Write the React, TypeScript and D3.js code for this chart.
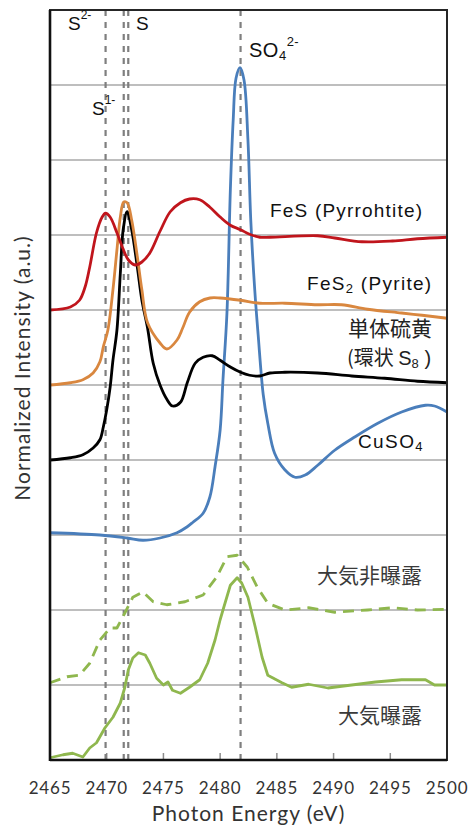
import React, { useEffect } from 'react';
import * as d3 from 'd3';

type Pt = [number, number];

// energy (eV), normalized intensity (offset units, 0-10)
const fesRed: Pt[] = [
  [2465.0, 6.0], [2466.8, 6.04], [2467.6, 6.13], [2468.1, 6.31], [2468.5, 6.57],
  [2469.1, 7.03], [2469.6, 7.24], [2469.9, 7.29], [2470.3, 7.24], [2470.9, 7.03],
  [2471.4, 6.83], [2471.9, 6.67], [2472.5, 6.6], [2473.1, 6.64], [2473.8, 6.76],
  [2474.7, 7.05], [2475.6, 7.31], [2476.5, 7.43], [2477.3, 7.48], [2478.2, 7.47],
  [2479.1, 7.37], [2480.0, 7.24], [2480.9, 7.13], [2481.8, 7.07], [2482.6, 7.01],
  [2483.5, 6.97], [2484.4, 6.97], [2488.6, 6.99], [2490.1, 6.96], [2492.5, 6.91],
  [2495.2, 6.92], [2497.4, 6.95], [2500.0, 6.97],
];

const fes2Orange: Pt[] = [
  [2465.0, 5.0], [2466.8, 5.03], [2467.9, 5.07], [2468.8, 5.16], [2469.4, 5.31],
  [2469.7, 5.51], [2470.1, 5.73], [2470.55, 6.27], [2470.9, 6.8], [2471.2, 7.24],
  [2471.5, 7.44], [2471.8, 7.43], [2472.2, 7.2], [2472.7, 6.71], [2473.1, 6.27],
  [2473.6, 5.83], [2474.7, 5.56], [2475.3, 5.48], [2476.2, 5.6], [2476.7, 5.76],
  [2477.3, 5.97], [2478.2, 6.11], [2479.1, 6.16], [2480.0, 6.16], [2481.8, 6.13],
  [2483.5, 6.09], [2485.7, 6.09], [2488.6, 6.07], [2490.7, 6.07], [2493.0, 6.01],
  [2496.0, 5.96], [2497.8, 5.93], [2500.0, 5.89],
];

const sulfurBlack: Pt[] = [
  [2465.0, 4.0], [2466.8, 4.03], [2467.9, 4.07], [2468.8, 4.16], [2469.4, 4.27],
  [2469.7, 4.44], [2470.0, 4.67], [2470.3, 4.97], [2470.55, 5.33], [2470.9, 5.73],
  [2471.2, 6.49], [2471.45, 7.07], [2471.8, 7.31], [2472.2, 7.07], [2472.7, 6.57],
  [2473.1, 6.13], [2473.6, 5.76], [2474.1, 5.29], [2474.7, 5.0], [2475.3, 4.81],
  [2475.8, 4.72], [2476.5, 4.77], [2477.1, 5.03], [2477.8, 5.29], [2478.5, 5.37],
  [2479.3, 5.39], [2480.0, 5.33], [2480.9, 5.24], [2481.8, 5.17], [2482.6, 5.13],
  [2483.5, 5.12], [2484.4, 5.16], [2485.7, 5.17], [2488.6, 5.16], [2491.6, 5.12],
  [2494.5, 5.09], [2497.4, 5.05], [2500.0, 5.03],
];

const cuso4Blue: Pt[] = [
  [2465.0, 3.03], [2469.4, 3.0], [2471.8, 2.96], [2473.2, 2.93], [2474.7, 2.96],
  [2476.2, 3.03], [2477.1, 3.11], [2477.6, 3.17], [2478.5, 3.29], [2479.1, 3.51],
  [2479.55, 3.91], [2480.0, 4.4], [2480.25, 5.07], [2480.6, 5.96], [2480.9, 7.6],
  [2481.15, 8.53], [2481.4, 9.09], [2481.75, 9.23], [2482.1, 9.07], [2482.45, 8.27],
  [2482.7, 7.2], [2483.05, 6.27], [2483.35, 5.67], [2483.8, 4.87], [2484.2, 4.49],
  [2484.8, 4.09], [2485.7, 3.87], [2486.6, 3.77], [2487.5, 3.8], [2488.6, 3.93],
  [2490.1, 4.13], [2491.9, 4.31], [2493.9, 4.49], [2496.0, 4.64], [2498.1, 4.73],
  [2498.9, 4.72], [2500.0, 4.64],
];

const unexposedGreen: Pt[] = [
  [2465.0, 1.03], [2466.5, 1.11], [2467.6, 1.13], [2468.5, 1.29], [2469.4, 1.6],
  [2470.3, 1.76], [2470.9, 1.76], [2471.6, 1.96], [2472.3, 2.17], [2473.2, 2.24],
  [2474.1, 2.11], [2475.3, 2.07], [2476.9, 2.11], [2478.5, 2.2], [2479.7, 2.44],
  [2480.6, 2.71], [2481.5, 2.73], [2482.4, 2.57], [2483.25, 2.31], [2484.2, 2.09],
  [2485.7, 2.0], [2487.8, 2.03], [2490.1, 1.97], [2493.0, 2.0], [2495.2, 2.03],
  [2497.4, 2.0], [2500.0, 2.01],
];

const exposedGreen: Pt[] = [
  [2465.0, 0.03], [2466.15, 0.07], [2467.0, 0.09], [2467.9, 0.04], [2468.5, 0.16],
  [2469.1, 0.23], [2469.85, 0.43], [2470.55, 0.57], [2471.2, 0.76], [2471.6, 0.97],
  [2471.9, 1.2], [2472.3, 1.36], [2472.8, 1.43], [2473.4, 1.4], [2473.8, 1.29],
  [2474.4, 1.09], [2475.0, 1.0], [2475.4, 1.04], [2475.8, 0.93], [2476.5, 0.89],
  [2477.3, 0.97], [2478.2, 1.07], [2478.9, 1.29], [2479.55, 1.6], [2480.0, 1.87],
  [2480.25, 2.0], [2480.9, 2.33], [2481.5, 2.43], [2481.9, 2.36], [2482.45, 2.17],
  [2483.1, 1.77], [2483.7, 1.37], [2484.2, 1.13], [2485.45, 1.03], [2486.3, 0.97],
  [2487.8, 1.01], [2489.5, 0.96], [2491.6, 1.0], [2493.7, 1.04], [2496.0, 1.07],
  [2498.1, 1.07], [2498.9, 1.0], [2500.0, 1.0],
];

const xTicks = [2465, 2470, 2475, 2480, 2485, 2490, 2495, 2500];
const gridValues = [1, 2, 3, 4, 5, 6, 7, 8, 9];
const refEnergies = [2469.9, 2471.5, 2471.9, 2481.8];

const width = 470;
const height = 830;
const margin = { top: 10, left: 50, right: 23, bottom: 70 };

const App: React.FC = () => {
  useEffect(() => {
    document.body.style.margin = '0';
  }, []);

  const x = d3.scaleLinear().domain([2465, 2500]).range([margin.left, width - margin.right]);
  const y = d3.scaleLinear().domain([0, 10]).range([height - margin.bottom, margin.top]);

  const line = d3
    .line<Pt>()
    .x((d) => x(d[0]))
    .y((d) => y(d[1]))
    .curve(d3.curveCatmullRom.alpha(0.5));

  const rough = d3
    .line<Pt>()
    .x((d) => x(d[0]))
    .y((d) => y(d[1]))
    .curve(d3.curveLinear);

  const x0 = x(2465);
  const x1 = x(2500);
  const yTop = y(10);
  const yBot = y(0);

  const sans = '"Liberation Sans", Arial, sans-serif';
  const cjk = '"Noto Sans CJK JP", sans-serif';
  const axisFont = 'Lato, "Open Sans", sans-serif';

  const series = [
    { data: unexposedGreen, color: '#8fb74e', dash: '11,7', gen: rough },
    { data: exposedGreen, color: '#8fb74e', dash: undefined, gen: rough },
    { data: cuso4Blue, color: '#4a7ebb', dash: undefined, gen: line },
    { data: sulfurBlack, color: '#000000', dash: undefined, gen: line },
    { data: fes2Orange, color: '#d9873f', dash: undefined, gen: line },
    { data: fesRed, color: '#c0151c', dash: undefined, gen: line },
  ];

  return (
    <svg width={width} height={height} style={{ display: 'block', background: '#fff' }}>
      {gridValues.map((g) => (
        <line key={g} x1={x0} x2={x1} y1={y(g)} y2={y(g)} stroke="#a9a9a9" strokeWidth={1.5} />
      ))}
      {xTicks.map((t) => (
        <line key={t} x1={x(t)} x2={x(t)} y1={yBot} y2={yBot - 7} stroke="#8c8c8c" strokeWidth={1.5} />
      ))}
      {refEnergies.map((e) => (
        <line
          key={e}
          x1={x(e)}
          x2={x(e)}
          y1={yTop}
          y2={yBot}
          stroke="#7f7f7f"
          strokeWidth={2.2}
          strokeDasharray="6,6"
        />
      ))}
      {series.map((s, i) => (
        <path
          key={i}
          d={s.gen(s.data) || ''}
          fill="none"
          stroke={s.color}
          strokeWidth={2.8}
          strokeDasharray={s.dash}
          strokeLinejoin="round"
        />
      ))}
      <rect x={x0} y={yTop} width={x1 - x0} height={yBot - yTop} fill="none" stroke="#262626" strokeWidth={2} />
      <line x1={x0} x2={x0} y1={yTop} y2={yBot + 1} stroke="#111" strokeWidth={2.6} />
      <line x1={x0} x2={x1} y1={yBot} y2={yBot} stroke="#111" strokeWidth={2.6} />

      {xTicks.map((t) => (
        <text key={t} x={x(t)} y={794} textAnchor="middle" fontFamily={axisFont} fontSize={17} fill="#333" letterSpacing={0.8}>
          {t}
        </text>
      ))}
      <text x={(x0 + x1) / 2} y={821} textAnchor="middle" fontFamily={axisFont} fontSize={21} fill="#333" letterSpacing={1}>
        Photon Energy (eV)
      </text>
      <text
        transform={`translate(30, 368) rotate(-90)`}
        textAnchor="middle"
        fontFamily={axisFont}
        fontSize={21}
        fill="#333"
        letterSpacing={1}
      >
        Normalized Intensity (a.u.)
      </text>

      {/* reference labels */}
      <g fontFamily={sans} fill="#111">
        <text x={68} y={30} fontSize={19}>
          S<tspan fontSize={12} dy={-11}>2-</tspan>
        </text>
        <text x={136} y={30} fontSize={19}>S</text>
        <text x={92} y={115} fontSize={19}>
          S<tspan fontSize={12} dy={-11}>1-</tspan>
        </text>
        <text x={249} y={57} fontSize={20} letterSpacing={0.5}>
          SO<tspan fontSize={13} dy={3}>4</tspan>
          <tspan fontSize={13} dy={-14}>2-</tspan>
        </text>
        <text x={270} y={217} fontSize={19} letterSpacing={1.2}>FeS (Pyrrohtite)</text>
        <text x={307} y={290} fontSize={19} letterSpacing={1.3}>
          FeS<tspan fontSize={13} dy={3}>2</tspan>
          <tspan dy={-3}> (Pyrite)</tspan>
        </text>
        <text x={358} y={448} fontSize={19} letterSpacing={1.4}>
          CuSO<tspan fontSize={13} dy={3}>4</tspan>
        </text>
      </g>
      <g fill="#222">
        <text x={348} y={336} fontFamily={cjk} fontSize={21}>単体硫黄</text>
        <text x={347} y={365} fontFamily={cjk} fontSize={20}>
          (環状 <tspan fontFamily={sans}>S</tspan>
          <tspan fontFamily={sans} fontSize={13} dy={3}>8</tspan>
          <tspan fontFamily={sans} dy={-3}> )</tspan>
        </text>
      </g>
      <g fill="#3a3a3a" fontFamily={cjk} fontSize={21}>
        <text x={317} y={583}>大気非曝露</text>
        <text x={338} y={723}>大気曝露</text>
      </g>
    </svg>
  );
};

export default App;
